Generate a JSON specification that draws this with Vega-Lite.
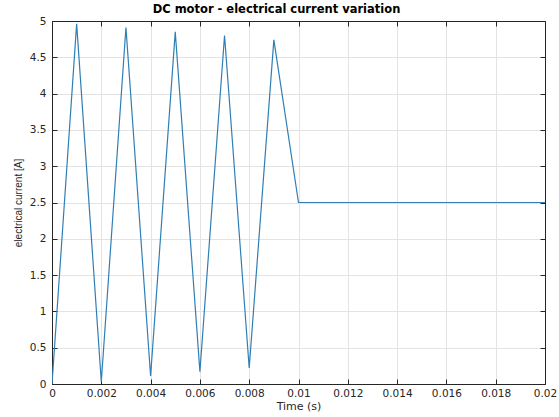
{
  "$schema": "https://vega.github.io/schema/vega-lite/v6.json",
  "autosize": {"type": "none"},
  "width": 493,
  "height": 363,
  "padding": {"left": 52, "top": 21, "right": 14, "bottom": 33},
  "background": "white",
  "title": {"text": "DC motor - electrical current variation", "font": "DejaVu Sans", "fontSize": 11.5, "fontWeight": "bold", "color": "#000000", "offset": 3, "dy": 2, "dx": -22},
  "config": {
    "view": {"stroke": "#262626", "strokeWidth": 1},
    "axis": {"labelFont": "DejaVu Sans", "titleFont": "DejaVu Sans", "labelFontSize": 10.5, "titleFontSize": 11, "titleFontWeight": "normal", "labelColor": "#262626", "titleColor": "#262626", "domainColor": "#262626", "tickColor": "#262626", "gridColor": "#e3e3e3", "gridOpacity": 1}
  },
  "data": {"values": [
    {"t": 0, "i": 0},
    {"t": 0.001, "i": 4.96},
    {"t": 0.002, "i": 0.03},
    {"t": 0.003, "i": 4.91},
    {"t": 0.004, "i": 0.11},
    {"t": 0.005, "i": 4.85},
    {"t": 0.006, "i": 0.17},
    {"t": 0.007, "i": 4.8},
    {"t": 0.008, "i": 0.22},
    {"t": 0.009, "i": 4.74},
    {"t": 0.01, "i": 2.5},
    {"t": 0.02, "i": 2.5}
  ]},
  "layer": [
    {
      "mark": {"type": "line", "color": "#2f7fb5", "strokeWidth": 1.2, "clip": true},
      "encoding": {
        "x": {"field": "t", "type": "quantitative", "scale": {"domain": [0, 0.02], "nice": false, "zero": false},
              "axis": {"orient": "bottom", "title": "Time (s)", "values": [0,0.002,0.004,0.006,0.008,0.01,0.012,0.014,0.016,0.018,0.02], "format": "~f", "tickSize": -5, "labelPadding": 9, "titlePadding": 2, "grid": true, "labelFlush": false}},
        "y": {"field": "i", "type": "quantitative", "scale": {"domain": [0, 5], "nice": false},
              "axis": {"orient": "left", "title": "electrical current [A]", "titleFont": "Liberation Sans", "titleFontSize": 10, "values": [0,0.5,1,1.5,2,2.5,3,3.5,4,4.5,5], "format": "~f", "tickSize": -5, "labelPadding": 11, "titlePadding": 6, "grid": true, "labelFlush": false}}
      }
    },
    {
      "mark": {"type": "line", "opacity": 0},
      "encoding": {
        "x": {"field": "t", "type": "quantitative", "scale": {"domain": [0, 0.02], "nice": false, "zero": false},
              "axis": {"orient": "top", "title": null, "labels": false, "values": [0,0.002,0.004,0.006,0.008,0.01,0.012,0.014,0.016,0.018,0.02], "tickSize": -5, "grid": false}},
        "y": {"field": "i", "type": "quantitative", "scale": {"domain": [0, 5], "nice": false},
              "axis": {"orient": "right", "title": null, "labels": false, "values": [0,0.5,1,1.5,2,2.5,3,3.5,4,4.5,5], "tickSize": -5, "grid": false}}
      }
    }
  ],
  "resolve": {"axis": {"x": "independent", "y": "independent"}}
}
